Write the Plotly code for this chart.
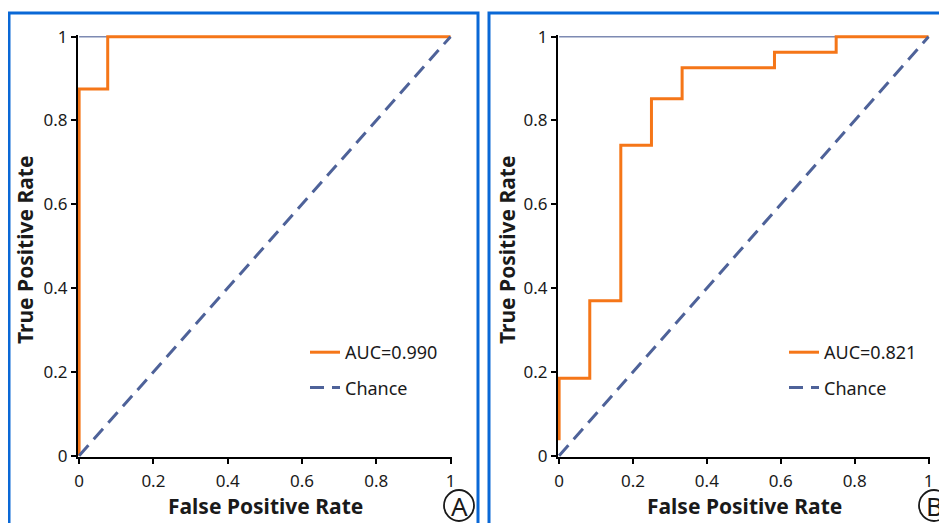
import plotly.graph_objects as go

# ---- data ----
tick_vals = [0, 0.2, 0.4, 0.6, 0.8, 1]
tick_text = ["0", "0.2", "0.4", "0.6", "0.8", "1"]

# Panel A ROC curve
fpr_a = [0, 0, 0.077, 0.077, 1]
tpr_a = [0, 0.875, 0.875, 1, 1]
auc_a = "AUC=0.990"

# Panel B ROC curve
fpr_b = [0, 0, 0.083, 0.083, 0.167, 0.167, 0.25, 0.25, 0.333, 0.333, 0.583, 0.583, 0.75, 0.75, 1]
tpr_b = [0.037, 0.185, 0.185, 0.370, 0.370, 0.741, 0.741, 0.852, 0.852, 0.926, 0.926, 0.963, 0.963, 1, 1]
auc_b = "AUC=0.821"

chance_x = [0, 1]
chance_y = [0, 1]
top_x = [0, 1]
top_y = [1, 1]

panel_labels = ["A", "B"]

# ---- style ----
OFF = 8  # page body margin in the browser
W, H = 947 - OFF, 523 - OFF
ORANGE = "#f57618"
CHANCE = "#4e6299"
TOPLINE = "#7d8ab2"
FRAME = "#0a68d6"
FONT = "Noto Sans"
TXT = "#1a1a1a"

def px(x):
    return (x - OFF) / W

def py(y):
    return 1 - (y - OFF) / H

fig = go.Figure()

panels = [
    dict(fx=fpr_a, ty=tpr_a, name=auc_a, xa="x", ya="y", leg="legend"),
    dict(fx=fpr_b, ty=tpr_b, name=auc_b, xa="x2", ya="y2", leg="legend2"),
]

for k, p in enumerate(panels):
    fig.add_trace(go.Scatter(x=top_x, y=top_y, mode="lines", showlegend=False,
                             line=dict(color=TOPLINE, width=1.5),
                             xaxis=p["xa"], yaxis=p["ya"], hoverinfo="skip"))
    fig.add_trace(go.Scatter(x=p["fx"], y=p["ty"], mode="lines", name=p["name"],
                             line=dict(color=ORANGE, width=3), legendgroup=f"roc{k}",
                             xaxis=p["xa"], yaxis=p["ya"], legend=p["leg"]))
    fig.add_trace(go.Scatter(x=chance_x, y=chance_y, mode="lines", name="Chance",
                             line=dict(color=CHANCE, width=3, dash="14px,8px"),
                             legendgroup=f"chance{k}",
                             xaxis=p["xa"], yaxis=p["ya"], legend=p["leg"]))

axis_common = dict(
    range=[-0.003, 1.004],
    tickvals=tick_vals, ticktext=tick_text,
    showline=True, linecolor="black", linewidth=2,
    ticks="outside", ticklen=5, tickwidth=2, tickcolor="black",
    showgrid=False, zeroline=False, layer="below traces",
    tickfont=dict(family=FONT, size=17, color=TXT),
    fixedrange=True, automargin=False,
)
xaxis_common = dict(axis_common, ticklabelstandoff=3)

legend_common = dict(xanchor="left", yanchor="top", bgcolor="rgba(0,0,0,0)",
                     font=dict(family=FONT, size=18, color=TXT), tracegroupgap=9)

ydom = [py(457), py(35)]
fig.update_layout(
    width=W, height=H, autosize=False,
    margin=dict(l=0, r=0, t=0, b=0, autoexpand=False),
    paper_bgcolor="white", plot_bgcolor="white",
    font=dict(family=FONT, color=TXT),
    xaxis=dict(domain=[px(78), px(452)], anchor="y", **xaxis_common),
    yaxis=dict(domain=ydom, anchor="x", **axis_common),
    xaxis2=dict(domain=[px(558), px(930)], anchor="y2", **xaxis_common),
    yaxis2=dict(domain=ydom, anchor="x2", **axis_common),
    legend=dict(x=px(305), y=py(334), **legend_common),
    legend2=dict(x=px(784), y=py(334), **legend_common),
    showlegend=True,
)

annotations = []
shapes = []
for i, (cx_plot, frame_x0, frame_x1, circ_x, ylab_x) in enumerate([
        ((78 + 452) / 2, 9, 478, 459, 25),
        ((558 + 930) / 2, 489, 960, 934, 507)]):
    annotations.append(dict(text="<b>False Positive Rate</b>", x=px(cx_plot), y=py(506),
                            xref="paper", yref="paper", showarrow=False,
                            xanchor="center", yanchor="middle",
                            font=dict(family=FONT, size=21, color=TXT)))
    annotations.append(dict(text="<b>True Positive Rate</b>", x=px(ylab_x), y=py(250),
                            xref="paper", yref="paper", showarrow=False, textangle=-90,
                            xanchor="center", yanchor="middle",
                            font=dict(family=FONT, size=21, color=TXT)))
    annotations.append(dict(text=panel_labels[i], x=px(circ_x), y=py(506),
                            xref="paper", yref="paper", showarrow=False,
                            xanchor="center", yanchor="middle",
                            font=dict(family=FONT, size=26, color=TXT)))
    shapes.append(dict(type="circle", xref="paper", yref="paper",
                       x0=px(circ_x - 15), x1=px(circ_x + 15),
                       y0=py(521), y1=py(490),
                       line=dict(color=TXT, width=1.8)))
    shapes.append(dict(type="rect", xref="paper", yref="paper",
                       x0=px(frame_x0), x1=px(frame_x1), y0=py(540), y1=py(13),
                       line=dict(color=FRAME, width=3)))

fig.update_layout(annotations=annotations, shapes=shapes)

fig.write_html("out.html")
